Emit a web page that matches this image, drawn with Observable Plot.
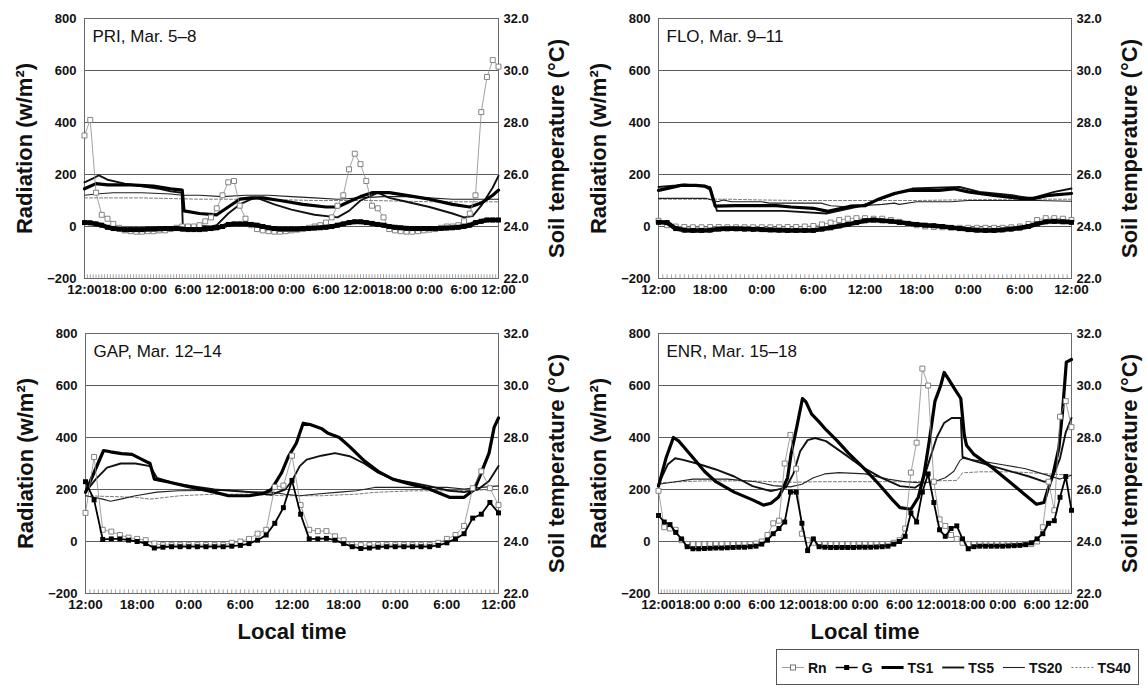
<!DOCTYPE html>
<html><head><meta charset="utf-8">
<script src="https://cdn.jsdelivr.net/npm/d3@7"></script>
<script src="https://cdn.jsdelivr.net/npm/@observablehq/plot@0.6"></script>
<style>
body{margin:0;background:#fff;font-family:"Liberation Sans",Arial,sans-serif;}
#wrap{position:relative;width:1147px;height:689px;overflow:hidden;background:#fff;}
.pane{position:absolute;}
</style>
</head><body><div id="wrap"></div>
<script>
// ---------- tick labels ----------
const radTicks = [-200, 0, 200, 400, 600, 800];
const tempLabels = ["22.0", "24.0", "26.0", "28.0", "30.0", "32.0"];
const clockLabels = ["12:00", "18:00", "0:00", "6:00"];
const panelLabels = ["PRI, Mar. 5–8", "FLO, Mar. 9–11", "GAP, Mar. 12–14", "ENR, Mar. 15–18"];
const legendNames = ["Rn", "G", "TS1", "TS5", "TS20", "TS40"];

// ---------- PRI (72 h, hourly Rn & G in W/m², soil temperature [hour, °C]) ----------
const priRn = [350,410,130,45,30,10,-5,-15,-18,-20, -20,-18,-18,-15,-15,-10,-5,0,0,0, 5,20,35,70,120,170,175,80,30,5, -10,-15,-18,-20,-20,-18,-15,-12,-10,-5, 0,5,15,35,80,120,220,280,240,175, 80,70,35,-10,-15,-18,-20,-20,-18,-15, -12,-10,-5,0,0,5,20,50,120,440, 575,640,615];
const priG = [15,14,10,5,-3,-8,-10,-12,-12,-12, -12,-10,-10,-9,-8,-8,-8,-10,-12,-12, -12,-10,-8,-5,0,8,10,10,10,8, 5,0,-5,-8,-10,-10,-10,-10,-8,-8, -6,-5,-3,0,5,10,15,18,18,15, 12,8,5,0,-3,-5,-7,-8,-8,-8, -8,-8,-7,-6,-5,-3,0,5,15,20, 25,25,25];
const priTS1 = [[0,25.45],[2,25.65],[4,25.6],[8,25.6],[12,25.55],[15,25.45],[17,25.4],[17.3,24.6],[20,24.5],[23,24.45],[25,24.75],[27,25.05],[29,25.1],[31,25.1],[34,25.0],[38,24.85],[42,24.75],[44,24.75],[46,24.95],[48,25.15],[50,25.3],[53,25.3],[56,25.2],[60,25.05],[64,24.85],[67,24.75],[69,24.9],[71,25.2],[72,25.4]];
const priTS5 = [[0,25.7],[1.5,25.85],[2.5,25.97],[4,25.8],[7,25.65],[10,25.55],[13,25.45],[15,25.35],[16.9,25.3],[17.1,24.0],[20,24.02],[22,24.0],[23,24.05],[25,24.5],[27,24.85],[29,25.05],[30,25.1],[33,24.85],[36,24.65],[40,24.45],[44,24.35],[46,24.6],[48,25.0],[50,25.2],[51,25.3],[53,25.1],[56,24.95],[60,24.75],[64,24.5],[66,24.35],[67.5,24.4],[69,24.8],[71,25.5],[72,25.95]];
const priTS20 = [[0,25.2],[2,25.25],[5,25.3],[10,25.3],[15,25.25],[17,25.2],[20,25.2],[24,25.15],[28,25.2],[32,25.2],[36,25.15],[40,25.1],[44,25.05],[48,25.1],[52,25.15],[56,25.15],[60,25.1],[64,25.05],[68,25.05],[72,25.05]];
const priTS40 = [[0,25.1],[10,25.1],[20,25.05],[30,25.05],[40,25.0],[50,25.0],[60,24.95],[72,24.95]];

// ---------- FLO (48 h) ----------
const floRn = [22,5,0,-2,-3,-3,-2,-2,-3,-3, -3,-3,-3,-3,-3,-2,-2,0,2,8, 15,25,30,32,32,30,30,25,18,10, 5,0,-2,-3,-5,-5,-5,-5,-5,-5, -5,-3,0,10,25,32,32,30,25];
const floG = [16,15,-8,-14,-15,-15,-14,-10,-9,-9, -10,-11,-12,-13,-14,-15,-15,-15,-15,-10, -5,2,8,15,22,25,22,20,16,12, 8,5,3,0,-4,-8,-12,-14,-15,-15, -13,-10,-6,0,10,18,20,18,16];
const floTS1 = [[0,25.39],[2.6,25.58],[4.3,25.58],[5.4,25.55],[6,25.45],[6.6,24.78],[9,24.8],[13.7,24.8],[15.4,24.75],[18,24.7],[19.7,24.58],[22.3,24.78],[24,24.8],[25.7,25.07],[27.4,25.27],[29.1,25.39],[32.6,25.39],[34.3,25.45],[36,25.33],[39,25.2],[42,25.08],[43.7,25.08],[45.4,25.2],[48,25.27]];
const floTS5 = [[0,25.52],[2.1,25.58],[3,25.62],[6,25.52],[6.8,24.6],[14.5,24.6],[19.5,24.5],[23.6,24.8],[28,25.3],[29.5,25.46],[35,25.52],[37.3,25.33],[41.1,25.2],[43.3,25.08],[46,25.33],[48,25.46]];
const floTS20 = [[0,25.08],[5.6,25.08],[6.9,24.95],[7.5,25.02],[8.5,24.95],[12,24.95],[12.9,24.9],[18.9,24.9],[20,24.8],[22.3,24.75],[23.6,24.8],[26,24.85],[27.4,24.9],[28,24.85],[30,24.95],[34,24.95],[36,25.0],[40,25.0],[44,25.0],[48,24.97]];
const floTS40 = [[0,25.05],[8,25.05],[12,25.02],[16,25.0],[24,25.0],[30,25.0],[36,25.03],[42,25.05],[48,25.05]];

// ---------- GAP (48 h) ----------
const gapRn = [110,325,45,38,25,15,10,5,-8,-14, -14,-14,-14,-14,-14,-14,-14,-5,0,10, 30,45,210,215,330,140,45,40,40,20, 5,-12,-14,-14,-14,-14,-14,-14,-14,-14, -14,-5,10,25,60,205,270,205,140];
const gapG = [230,160,8,10,10,5,0,-8,-25,-22, -20,-20,-20,-20,-20,-20,-20,-18,-15,-8, 5,25,70,130,235,105,10,10,12,5, -8,-20,-27,-25,-22,-20,-20,-20,-20,-20, -20,-15,-5,10,30,90,105,150,110];
const gapTS1 = [[0,25.89],[0.8,26.5],[2.1,27.5],[2.9,27.45],[4.2,27.38],[5.4,27.35],[6.6,27.15],[7.5,27.0],[8.0,26.4],[9.5,26.3],[11.6,26.14],[15,25.9],[16.6,25.76],[19,25.76],[20.7,25.85],[21.6,26.0],[22.8,26.65],[23.6,27.28],[24.5,27.78],[25.3,28.55],[26.1,28.5],[27.4,28.35],[28.2,28.16],[29.5,28.0],[30.7,27.65],[32.4,27.1],[34,26.7],[35.7,26.4],[37.8,26.2],[39.8,26.04],[42.3,25.7],[44,25.7],[45.2,26.0],[46,26.65],[46.9,27.4],[47.5,28.4],[48,28.75]];
const gapTS5 = [[0,25.9],[1.2,26.4],[2.5,26.84],[4.1,27.0],[5.8,27.0],[7.5,26.9],[8.3,26.45],[10.8,26.2],[15,26.0],[19,25.9],[21.6,25.8],[23.2,26.0],[24,26.33],[24.9,26.9],[25.7,27.15],[27.4,27.3],[29,27.4],[30.7,27.28],[32.4,27.0],[34,26.65],[35.7,26.4],[37.8,26.27],[39.8,26.14],[42.3,25.95],[44,25.9],[45.6,26.0],[46.9,26.33],[48,26.9]];
const gapTS20 = [[0,25.76],[2,25.63],[2.9,25.55],[4.1,25.63],[5.8,25.76],[8.3,25.9],[10.8,25.95],[16.6,25.97],[19,25.92],[21.6,25.9],[23.2,25.82],[24.9,25.76],[26.6,25.82],[29.5,25.9],[31.5,25.95],[33.6,26.08],[37.8,26.08],[42,26.08],[44,26.02],[46,26.08],[48,26.14]];
const gapTS40 = [[0,25.76],[5.8,25.7],[7.5,25.63],[11,25.76],[15,25.82],[19,25.82],[23.2,25.76],[27.4,25.76],[31.5,25.82],[33.6,25.89],[38,25.95],[42,25.95],[48,26.0]];

// ---------- ENR (72 h) ----------
const enrRn = [195,55,50,45,5,-10,-10,-10,-10,-10, -10,-10,-10,-10,-10,-10,-10,-8,0,25, 70,80,300,410,280,30,5,-5,-10,-10, -10,-10,-10,-10,-10,-10,-10,-10,-10,-10, -10,-5,5,50,265,380,665,600,230,85, 60,25,10,-5,-10,-10,-10,-10,-10,-10, -10,-10,-10,-10,-10,-10,0,55,230,120, 480,540,440];
const enrG = [100,75,65,35,10,-20,-28,-28,-27,-26, -25,-25,-24,-23,-22,-22,-20,-18,-10,5, 30,50,75,190,190,70,-35,10,-20,-22, -23,-23,-23,-23,-23,-22,-22,-22,-21,-20, -18,-10,0,20,110,75,190,260,150,45, 20,50,60,10,-28,-20,-18,-18,-18,-18, -18,-17,-16,-15,-12,-5,10,30,70,80, 170,250,120];
const enrTS1 = [[0,26.13],[1.3,27.2],[2.6,28.0],[3.5,27.87],[4.8,27.54],[6.1,27.2],[8,26.7],[10,26.3],[13.2,25.9],[16.4,25.6],[18.3,25.4],[19.6,25.47],[20.9,25.7],[21.5,25.94],[22.5,26.45],[23.1,27.35],[24.1,28.4],[25.1,29.5],[25.7,29.37],[26.7,28.9],[28,28.6],[29.2,28.3],[31.2,27.86],[33.1,27.4],[35.7,26.84],[38.2,26.26],[40.8,25.6],[42.1,25.3],[44,25.24],[45.3,25.7],[46.3,26.6],[47.2,27.86],[48.2,29.4],[49.2,30.0],[49.8,30.5],[50.4,30.3],[51.7,29.84],[52.7,29.5],[53.3,28.1],[53.7,27.7],[55,27.35],[58.2,26.84],[61.4,26.26],[63.9,25.8],[65.9,25.43],[67.2,25.5],[67.8,25.94],[68.8,26.6],[69.8,27.6],[70.4,28.9],[71.1,30.9],[72,31.0]];
const enrTS5 = [[0,26.2],[1.6,26.96],[2.9,27.2],[4.1,27.15],[6.7,27.0],[10,26.77],[13.2,26.5],[16.4,26.13],[19.6,25.94],[22.2,26.07],[23.5,26.6],[24.7,27.47],[26,27.9],[27.3,27.98],[29.2,27.86],[32.5,27.35],[35.7,26.84],[38.9,26.45],[42.1,26.13],[44.7,26.07],[46,26.26],[47.2,27.1],[48.5,28.0],[49.8,28.56],[51.1,28.75],[52.7,28.75],[53,27.25],[55,27.1],[58.2,26.9],[61.4,26.7],[64.6,26.5],[67.2,26.3],[68.5,26.35],[70,27.2],[71,28.2],[72,28.75]];
const enrTS20 = [[0,26.2],[3,26.3],[6,26.4],[12,26.4],[17,26.3],[20,26.15],[23,26.1],[25,26.2],[27,26.45],[29,26.6],[31.5,26.65],[36,26.6],[40,26.4],[43,26.3],[46,26.25],[48,26.3],[50,26.45],[51.5,26.7],[52.5,27.1],[53,27.2],[56,27.1],[60,26.95],[64,26.8],[67,26.6],[70,26.4],[72,26.55]];
const enrTS40 = [[0,26.26],[4,26.3],[8,26.33],[16,26.33],[20,26.3],[24,26.28],[28,26.3],[36,26.3],[44,26.3],[48,26.33],[52,26.35],[53,26.64],[56,26.68],[62,26.68],[68,26.6],[72,26.55]];

// ---------- drawing ----------
const FONT = "'Liberation Sans', Arial, sans-serif";
const toRad = T => (T - 24) * 100;   // 22.0 °C ↔ −200, 32.0 °C ↔ 800

function panel(o) {
  const rnD = o.rn.map((v, i) => ({t: i, v}));
  const gD = o.g.map((v, i) => ({t: i, v}));
  const ts = (arr, opt) => Plot.line(arr, {x: d => d[0], y: d => toRad(d[1]), ...opt});
  const marks = [
    Plot.ruleY([0, 200, 400, 600], {stroke: "#4a4a4a", strokeWidth: 0.9}),
    Plot.ruleX(d3.range(0, o.hours + 0.001, 0.5), {y1: -200, y2: -186, stroke: "#8c8c8c", strokeWidth: 0.8}),
    Plot.frame({stroke: "#6a6a6a", strokeWidth: 1}),
    ts(o.ts40, {stroke: "#7a7a7a", strokeWidth: 1, strokeDasharray: "3,2"}),
    ts(o.ts20, {stroke: "#222", strokeWidth: 1.1}),
    ts(o.ts5, {stroke: "#111", strokeWidth: 1.9}),
    ts(o.ts1, {stroke: "#000", strokeWidth: 3.2}),
    Plot.line(rnD, {x: "t", y: "v", stroke: "#8a8a8a", strokeWidth: 0.8}),
    Plot.dot(rnD, {x: "t", y: "v", symbol: "square", r: 2.8, stroke: "#777", fill: "white", strokeWidth: 0.9}),
    Plot.line(gD, {x: "t", y: "v", stroke: "#000", strokeWidth: o.gw}),
    Plot.dot(gD, {x: "t", y: "v", symbol: "square", r: 2.8, fill: "#000", stroke: "none"}),
    Plot.axisY({ticks: radTicks, tickSize: 0, tickPadding: 8, fontSize: 13, fontWeight: "bold", label: null}),
    Plot.axisY({anchor: "right", ticks: radTicks, tickFormat: d => tempLabels[radTicks.indexOf(d)], tickSize: 0, tickPadding: 5, fontSize: 13, fontWeight: "bold", label: null}),
    Plot.axisX({ticks: d3.range(0, o.hours + 0.001, 6), tickFormat: d => clockLabels[Math.round(d / 6) % 4], tickSize: 0, tickPadding: 6, fontSize: 13.5, fontWeight: "bold", label: null}),
    Plot.text([o.label], {frameAnchor: "top-left", dx: 8, dy: 11, fontSize: 17, fill: "#111"}),
    Plot.text(["Radiation (w/m²)"], {frameAnchor: "left", textAnchor: "middle", lineAnchor: "middle", rotate: -90, dx: -60, fontSize: 22, fontWeight: "bold", fill: "#111"}),
    Plot.text(["Soil temperature (°C)"], {frameAnchor: "right", textAnchor: "middle", lineAnchor: "middle", rotate: -90, dx: 58, fontSize: 22, fontWeight: "bold", fill: "#111"})
  ];
  if (o.local) marks.push(Plot.text(["Local time"], {frameAnchor: "bottom", textAnchor: "middle", lineAnchor: "middle", dy: 38, fontSize: 22, fontWeight: "bold", fill: "#111"}));
  const svg = Plot.plot({
    width: o.w, height: o.h,
    marginLeft: o.ml, marginRight: o.w - o.ml - o.pw, marginTop: o.mt, marginBottom: o.h - o.mt - 260,
    x: {domain: [0, o.hours]},
    y: {domain: [-200, 800]},
    style: {fontFamily: FONT, color: "#111", background: "transparent", overflow: "visible"},
    marks
  });
  const div = document.createElement("div");
  div.className = "pane";
  div.style.left = o.left + "px";
  div.style.top = o.top + "px";
  div.appendChild(svg);
  document.getElementById("wrap").appendChild(div);
}

panel({label: panelLabels[0], hours: 72, rn: priRn, g: priG, ts1: priTS1, ts5: priTS5, ts20: priTS20, ts40: priTS40, gw: 4.5,
  left: 0, top: 0, w: 570, h: 310, ml: 84, pw: 414, mt: 18});
panel({label: panelLabels[1], hours: 48, rn: floRn, g: floG, ts1: floTS1, ts5: floTS5, ts20: floTS20, ts40: floTS40, gw: 4.5,
  left: 570, top: 0, w: 577, h: 310, ml: 88, pw: 413, mt: 18});
panel({label: panelLabels[2], hours: 48, rn: gapRn, g: gapG, ts1: gapTS1, ts5: gapTS5, ts20: gapTS20, ts40: gapTS40, gw: 1.8,
  left: 0, top: 310, w: 570, h: 334, ml: 85, pw: 413, mt: 23, local: true});
panel({label: panelLabels[3], hours: 72, rn: enrRn, g: enrG, ts1: enrTS1, ts5: enrTS5, ts20: enrTS20, ts40: enrTS40, gw: 1.8,
  left: 570, top: 310, w: 577, h: 334, ml: 88, pw: 413, mt: 23, local: true});

// ---------- legend (below the charts) ----------
(function legend() {
  const lw = 362, lh = 35;
  const fs = 14;
  const svg = d3.create("svg").attr("width", lw + 2).attr("height", lh + 2)
    .style("position", "absolute").style("left", "776px").style("top", "649px")
    .style("font-family", FONT);
  svg.append("rect").attr("x", 0.5).attr("y", 0.5).attr("width", lw).attr("height", lh)
    .attr("fill", "white").attr("stroke", "#555");
  const cy = lh / 2 + 1;
  const kinds = ["rn", "g", "ts1", "ts5", "ts20", "ts40"];
  let x = 6;
  kinds.forEach((kind, i) => {
    const g = svg.append("g");
    const x0 = x, x1 = x + 22;
    const line = g.append("line").attr("x1", x0).attr("x2", x1).attr("y1", cy).attr("y2", cy);
    if (kind === "rn") {
      line.attr("stroke", "#888").attr("stroke-width", 0.8);
      g.append("rect").attr("x", (x0 + x1) / 2 - 2.5).attr("y", cy - 2.5).attr("width", 5).attr("height", 5)
        .attr("fill", "white").attr("stroke", "#666").attr("stroke-width", 0.9);
    } else if (kind === "g") {
      line.attr("stroke", "#000").attr("stroke-width", 1.4);
      g.append("rect").attr("x", (x0 + x1) / 2 - 2.5).attr("y", cy - 2.5).attr("width", 5).attr("height", 5).attr("fill", "#000");
    } else if (kind === "ts1") line.attr("stroke", "#000").attr("stroke-width", 3);
    else if (kind === "ts5") line.attr("stroke", "#111").attr("stroke-width", 1.9);
    else if (kind === "ts20") line.attr("stroke", "#222").attr("stroke-width", 1.1);
    else line.attr("stroke", "#777").attr("stroke-width", 1).attr("stroke-dasharray", "2,2");
    const t = g.append("text").attr("x", x1 + 4).attr("y", cy).attr("dy", "0.36em")
      .attr("font-size", fs).attr("font-weight", "bold").attr("fill", "#111").text(legendNames[i]);
    document.body.appendChild(svg.node());
    const w = t.node().getComputedTextLength();
    x = x1 + 4 + w + 9;
  });
  document.getElementById("wrap").appendChild(svg.node());
})();
</script>
</body></html>
